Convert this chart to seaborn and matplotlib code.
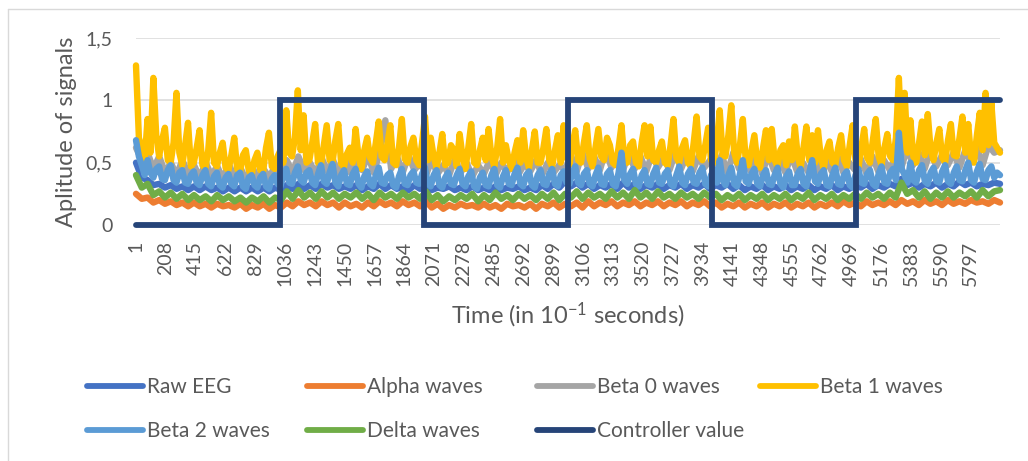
import numpy as np
import matplotlib
matplotlib.use("Agg")
import matplotlib.pyplot as plt
from matplotlib.lines import Line2D
import seaborn as sns

# time axis (samples, 10^-1 s). Slow series are read off at 150 positions,
# the two busiest (Beta 1, Beta 2) at 300 positions
time_idx = np.linspace(1, 6000, 150)
time_fine = np.linspace(1, 6000, 300)
time_ticks = list(range(1, 5798, 207))

raw_eeg = [
    0.50, 0.38, 0.36, 0.32, 0.33, 0.30, 0.32, 0.29, 0.31, 0.28,
    0.31, 0.28, 0.31, 0.28, 0.30, 0.27, 0.30, 0.27, 0.30, 0.27,
    0.30, 0.27, 0.30, 0.27, 0.30, 0.28, 0.32, 0.29, 0.33, 0.29,
    0.32, 0.29, 0.33, 0.30, 0.32, 0.29, 0.31, 0.29, 0.32, 0.28,
    0.31, 0.29, 0.33, 0.29, 0.32, 0.29, 0.31, 0.28, 0.32, 0.29,
    0.31, 0.28, 0.30, 0.29, 0.31, 0.28, 0.30, 0.28, 0.31, 0.28,
    0.30, 0.28, 0.31, 0.28, 0.30, 0.29, 0.31, 0.28, 0.30, 0.28,
    0.32, 0.29, 0.33, 0.30, 0.35, 0.31, 0.34, 0.30, 0.33, 0.29,
    0.32, 0.30, 0.33, 0.29, 0.34, 0.30, 0.33, 0.29, 0.32, 0.30,
    0.33, 0.29, 0.32, 0.30, 0.33, 0.29, 0.32, 0.30, 0.33, 0.29,
    0.32, 0.30, 0.33, 0.29, 0.32, 0.28, 0.31, 0.29, 0.32, 0.28,
    0.31, 0.29, 0.32, 0.28, 0.31, 0.29, 0.32, 0.28, 0.31, 0.29,
    0.32, 0.28, 0.31, 0.29, 0.32, 0.30, 0.33, 0.29, 0.32, 0.30,
    0.33, 0.31, 0.37, 0.32, 0.34, 0.30, 0.33, 0.31, 0.34, 0.30,
    0.33, 0.31, 0.35, 0.32, 0.34, 0.31, 0.33, 0.32, 0.34, 0.33,
]

alpha_waves = [
    0.25, 0.21, 0.22, 0.18, 0.20, 0.17, 0.19, 0.16, 0.18, 0.15,
    0.18, 0.15, 0.17, 0.14, 0.17, 0.15, 0.16, 0.14, 0.17, 0.13,
    0.16, 0.14, 0.17, 0.13, 0.16, 0.14, 0.18, 0.15, 0.19, 0.16,
    0.18, 0.15, 0.19, 0.16, 0.18, 0.14, 0.18, 0.15, 0.17, 0.14,
    0.18, 0.15, 0.19, 0.16, 0.18, 0.15, 0.19, 0.16, 0.18, 0.15,
    0.19, 0.14, 0.17, 0.13, 0.16, 0.14, 0.17, 0.15, 0.16, 0.14,
    0.17, 0.14, 0.16, 0.13, 0.17, 0.15, 0.16, 0.14, 0.17, 0.13,
    0.17, 0.15, 0.18, 0.14, 0.17, 0.15, 0.18, 0.14, 0.19, 0.15,
    0.18, 0.16, 0.19, 0.15, 0.18, 0.16, 0.19, 0.15, 0.18, 0.16,
    0.19, 0.15, 0.18, 0.16, 0.19, 0.15, 0.18, 0.16, 0.19, 0.15,
    0.18, 0.14, 0.17, 0.15, 0.18, 0.14, 0.17, 0.15, 0.18, 0.14,
    0.17, 0.15, 0.18, 0.14, 0.17, 0.15, 0.18, 0.14, 0.17, 0.15,
    0.18, 0.15, 0.19, 0.16, 0.18, 0.15, 0.19, 0.16, 0.18, 0.16,
    0.19, 0.16, 0.20, 0.17, 0.19, 0.16, 0.20, 0.17, 0.19, 0.16,
    0.20, 0.17, 0.19, 0.17, 0.20, 0.18, 0.19, 0.17, 0.20, 0.18,
]

beta0_waves = [
    0.62, 0.52, 0.58, 0.45, 0.55, 0.42, 0.50, 0.40, 0.52, 0.41,
    0.48, 0.38, 0.50, 0.40, 0.47, 0.37, 0.49, 0.38, 0.46, 0.36,
    0.47, 0.37, 0.45, 0.38, 0.48, 0.40, 0.52, 0.42, 0.55, 0.44,
    0.50, 0.41, 0.54, 0.43, 0.52, 0.40, 0.55, 0.42, 0.50, 0.44,
    0.56, 0.42, 0.58, 0.84, 0.45, 0.55, 0.42, 0.56, 0.44, 0.50,
    0.40, 0.52, 0.41, 0.48, 0.40, 0.53, 0.42, 0.50, 0.39, 0.48,
    0.41, 0.52, 0.40, 0.50, 0.42, 0.54, 0.41, 0.49, 0.43, 0.52,
    0.40, 0.50, 0.42, 0.48, 0.44, 0.56, 0.43, 0.58, 0.45, 0.55,
    0.44, 0.60, 0.46, 0.56, 0.44, 0.58, 0.45, 0.55, 0.43, 0.57,
    0.46, 0.54, 0.44, 0.58, 0.45, 0.56, 0.43, 0.55, 0.46, 0.52,
    0.44, 0.56, 0.42, 0.58, 0.45, 0.52, 0.43, 0.55, 0.41, 0.57,
    0.44, 0.53, 0.42, 0.56, 0.43, 0.50, 0.42, 0.54, 0.41, 0.52,
    0.43, 0.55, 0.42, 0.50, 0.44, 0.53, 0.41, 0.55, 0.43, 0.52,
    0.44, 0.56, 0.46, 0.62, 0.48, 0.58, 0.45, 0.60, 0.47, 0.56,
    0.48, 0.58, 0.46, 0.60, 0.50, 0.62, 0.48, 0.64, 0.58, 0.60,
]

beta1_waves = [
    1.28, 0.70, 0.62, 0.52, 0.85, 0.58, 1.18, 0.72, 0.55, 0.68, 0.78, 0.52, 0.50, 0.66, 1.06, 0.58, 0.48, 0.64, 0.82, 0.47,
    0.50, 0.62, 0.76, 0.48, 0.45, 0.60, 0.90, 0.50, 0.47, 0.58, 0.66, 0.46, 0.44, 0.56, 0.70, 0.45, 0.42, 0.56, 0.60, 0.44,
    0.40, 0.52, 0.58, 0.44, 0.43, 0.62, 0.74, 0.47, 0.45, 0.55, 0.60, 0.50, 0.92, 0.58, 0.55, 0.70, 1.08, 0.60, 0.88, 0.50,
    0.52, 0.66, 0.81, 0.50, 0.48, 0.64, 0.80, 0.52, 0.50, 0.68, 0.81, 0.49, 0.47, 0.57, 0.62, 0.50, 0.77, 0.55, 0.45, 0.60,
    0.70, 0.54, 0.50, 0.66, 0.83, 0.55, 0.52, 0.65, 0.80, 0.50, 0.48, 0.62, 0.85, 0.53, 0.50, 0.63, 0.70, 0.52, 0.48, 0.66,
    0.87, 0.52, 0.70, 0.55, 0.46, 0.58, 0.73, 0.48, 0.50, 0.64, 0.60, 0.47, 0.73, 0.55, 0.45, 0.62, 0.81, 0.50, 0.48, 0.60,
    0.70, 0.52, 0.77, 0.55, 0.47, 0.62, 0.85, 0.50, 0.64, 0.52, 0.45, 0.58, 0.68, 0.50, 0.76, 0.54, 0.46, 0.60, 0.75, 0.50,
    0.50, 0.62, 0.77, 0.52, 0.47, 0.60, 0.72, 0.50, 0.80, 0.55, 0.48, 0.64, 0.76, 0.52, 0.50, 0.66, 0.80, 0.53, 0.47, 0.62,
    0.77, 0.55, 0.52, 0.70, 0.64, 0.50, 0.48, 0.62, 0.80, 0.52, 0.50, 0.64, 0.67, 0.50, 0.47, 0.66, 0.80, 0.55, 0.79, 0.52,
    0.50, 0.60, 0.67, 0.50, 0.48, 0.64, 0.85, 0.54, 0.50, 0.62, 0.68, 0.50, 0.47, 0.66, 0.87, 0.55, 0.52, 0.64, 0.78, 0.52,
    0.50, 0.66, 0.92, 0.56, 0.55, 0.72, 0.96, 0.58, 0.50, 0.64, 0.85, 0.52, 0.48, 0.60, 0.72, 0.50, 0.46, 0.62, 0.76, 0.52,
    0.77, 0.52, 0.47, 0.60, 0.64, 0.48, 0.67, 0.52, 0.79, 0.55, 0.46, 0.62, 0.79, 0.52, 0.72, 0.50, 0.76, 0.54, 0.45, 0.60,
    0.67, 0.50, 0.48, 0.62, 0.72, 0.52, 0.47, 0.64, 0.80, 0.52, 0.46, 0.62, 0.77, 0.54, 0.50, 0.68, 0.85, 0.55, 0.48, 0.62,
    0.73, 0.55, 0.52, 0.70, 1.18, 0.62, 1.06, 0.58, 0.84, 0.55, 0.50, 0.66, 0.83, 0.56, 0.89, 0.60, 0.52, 0.66, 0.77, 0.54,
    0.50, 0.68, 0.81, 0.56, 0.55, 0.70, 0.87, 0.58, 0.81, 0.54, 0.50, 0.72, 0.90, 0.60, 1.06, 0.64, 0.98, 0.66, 0.62, 0.58,
]

beta2_waves = [
    0.68, 0.55, 0.48, 0.40, 0.52, 0.42, 0.38, 0.45, 0.47, 0.37, 0.36, 0.44, 0.48, 0.36, 0.34, 0.42, 0.44, 0.34, 0.33, 0.40,
    0.43, 0.34, 0.32, 0.40, 0.44, 0.33, 0.31, 0.39, 0.42, 0.32, 0.30, 0.38, 0.41, 0.33, 0.31, 0.40, 0.42, 0.31, 0.29, 0.38,
    0.40, 0.32, 0.30, 0.38, 0.41, 0.31, 0.29, 0.37, 0.40, 0.33, 0.31, 0.40, 0.45, 0.34, 0.33, 0.42, 0.47, 0.36, 0.34, 0.42,
    0.44, 0.34, 0.32, 0.41, 0.48, 0.35, 0.33, 0.42, 0.49, 0.34, 0.31, 0.40, 0.44, 0.33, 0.32, 0.41, 0.45, 0.33, 0.30, 0.39,
    0.43, 0.33, 0.31, 0.40, 0.46, 0.34, 0.33, 0.40, 0.42, 0.32, 0.30, 0.39, 0.45, 0.33, 0.32, 0.40, 0.43, 0.34, 0.33, 0.41,
    0.46, 0.33, 0.31, 0.40, 0.44, 0.32, 0.30, 0.38, 0.42, 0.33, 0.32, 0.40, 0.45, 0.33, 0.31, 0.39, 0.43, 0.31, 0.29, 0.38,
    0.42, 0.32, 0.31, 0.40, 0.45, 0.32, 0.30, 0.39, 0.44, 0.33, 0.32, 0.41, 0.46, 0.33, 0.31, 0.40, 0.43, 0.32, 0.30, 0.40,
    0.44, 0.33, 0.32, 0.41, 0.45, 0.33, 0.31, 0.40, 0.43, 0.34, 0.33, 0.42, 0.47, 0.34, 0.32, 0.41, 0.44, 0.33, 0.31, 0.40,
    0.46, 0.33, 0.32, 0.41, 0.44, 0.33, 0.31, 0.42, 0.58, 0.36, 0.33, 0.41, 0.45, 0.33, 0.31, 0.40, 0.44, 0.33, 0.32, 0.41,
    0.46, 0.34, 0.33, 0.41, 0.44, 0.33, 0.31, 0.40, 0.47, 0.34, 0.32, 0.41, 0.45, 0.34, 0.33, 0.42, 0.46, 0.33, 0.31, 0.40,
    0.44, 0.34, 0.52, 0.36, 0.32, 0.40, 0.46, 0.33, 0.31, 0.41, 0.52, 0.35, 0.33, 0.41, 0.45, 0.33, 0.31, 0.40, 0.44, 0.33,
    0.32, 0.40, 0.46, 0.33, 0.30, 0.39, 0.43, 0.32, 0.32, 0.41, 0.45, 0.33, 0.31, 0.42, 0.52, 0.35, 0.33, 0.41, 0.44, 0.32,
    0.31, 0.40, 0.46, 0.33, 0.32, 0.40, 0.43, 0.32, 0.30, 0.40, 0.45, 0.34, 0.33, 0.41, 0.44, 0.33, 0.31, 0.41, 0.47, 0.34,
    0.33, 0.42, 0.45, 0.36, 0.74, 0.45, 0.40, 0.34, 0.50, 0.36, 0.34, 0.44, 0.48, 0.35, 0.33, 0.42, 0.46, 0.35, 0.34, 0.43,
    0.48, 0.35, 0.33, 0.42, 0.47, 0.36, 0.35, 0.44, 0.50, 0.36, 0.34, 0.43, 0.49, 0.37, 0.36, 0.44, 0.47, 0.38, 0.42, 0.40,
]

delta_waves = [
    0.40, 0.30, 0.33, 0.24, 0.27, 0.22, 0.26, 0.21, 0.25, 0.20,
    0.24, 0.20, 0.23, 0.19, 0.24, 0.20, 0.23, 0.19, 0.22, 0.18,
    0.22, 0.19, 0.23, 0.18, 0.22, 0.20, 0.27, 0.21, 0.28, 0.22,
    0.26, 0.21, 0.27, 0.22, 0.26, 0.21, 0.25, 0.22, 0.26, 0.21,
    0.25, 0.20, 0.26, 0.22, 0.25, 0.21, 0.26, 0.22, 0.25, 0.21,
    0.27, 0.20, 0.24, 0.19, 0.23, 0.20, 0.24, 0.21, 0.25, 0.19,
    0.24, 0.20, 0.26, 0.21, 0.24, 0.20, 0.25, 0.21, 0.24, 0.20,
    0.25, 0.21, 0.26, 0.20, 0.25, 0.22, 0.27, 0.21, 0.26, 0.22,
    0.25, 0.21, 0.27, 0.22, 0.26, 0.21, 0.28, 0.22, 0.26, 0.21,
    0.27, 0.22, 0.25, 0.21, 0.26, 0.22, 0.25, 0.21, 0.26, 0.22,
    0.25, 0.20, 0.24, 0.21, 0.25, 0.20, 0.24, 0.21, 0.25, 0.20,
    0.24, 0.21, 0.25, 0.20, 0.24, 0.21, 0.26, 0.20, 0.24, 0.21,
    0.25, 0.20, 0.24, 0.21, 0.25, 0.21, 0.26, 0.22, 0.25, 0.21,
    0.26, 0.22, 0.34, 0.25, 0.28, 0.22, 0.27, 0.21, 0.26, 0.22,
    0.27, 0.22, 0.26, 0.23, 0.27, 0.22, 0.28, 0.23, 0.27, 0.28,
]

# controller switches every 1000 samples
ctrl_x = [1, 1000, 2000, 3000, 4000, 5000, 6000]
ctrl_y = [0, 1, 0, 1, 0, 1, 1]

y_ticks = [0, 0.5, 1, 1.5]
y_tick_labels = ["0", "0,5", "1", "1,5"]

series = [
    ("Raw EEG", time_idx, raw_eeg, "#4472C4"),
    ("Alpha waves", time_idx, alpha_waves, "#ED7D31"),
    ("Beta 0 waves", time_idx, beta0_waves, "#A5A5A5"),
    ("Beta 1 waves", time_fine, beta1_waves, "#FFC000"),
    ("Beta 2 waves", time_fine, beta2_waves, "#5B9BD5"),
    ("Delta waves", time_idx, delta_waves, "#70AD47"),
]
ctrl_color = "#264478"
txt_color = "#595959"

sns.set_style("white")
plt.rcParams["font.family"] = ["Lato", "DejaVu Sans"]
plt.rcParams["mathtext.default"] = "regular"

W, H = 1028, 461
fig = plt.figure(figsize=(W / 100, H / 100), dpi=100)
ax = fig.add_axes([136 / W, 1 - 225 / H, 864 / W, 187 / H])

for name, xs, vals, col in series:
    sns.lineplot(x=xs, y=vals, color=col, ax=ax, legend=False)

sns.lineplot(x=ctrl_x, y=ctrl_y, color=ctrl_color, ax=ax, legend=False,
             drawstyle="steps-post")

for i, ln in enumerate(ax.lines):
    ln.set_linewidth(4.6 if i < len(series) else 4.2)
    ln.set_solid_joinstyle("round" if i < len(series) else "miter")
    ln.set_solid_capstyle("round")
    ln.set_clip_on(False)

ax.set_xlim(1, 6000)
ax.set_ylim(0, 1.5)
ax.set_xticks(time_ticks)
ax.set_xticklabels([str(t) for t in time_ticks], rotation=90)
ax.set_yticks(y_ticks)
ax.set_yticklabels(y_tick_labels)
ax.tick_params(axis="both", length=0, labelsize=14, labelcolor=txt_color)
ax.tick_params(axis="x", pad=11.5)
ax.tick_params(axis="y", pad=17)
ax.grid(False)
ax.yaxis.grid(True, color="#D9D9D9", linewidth=1.1)
ax.set_axisbelow(True)
for sp in ax.spines.values():
    sp.set_visible(False)

ax.set_xlabel(r"Time (in 10$^{-1}$ seconds)", fontsize=17, color=txt_color, labelpad=10)
ax.set_ylabel("Aplitude of signals", fontsize=17, color=txt_color, labelpad=6)

# legend: Excel puts entries on a fixed grid, so one small legend per entry
legend_slots = [
    ("Raw EEG", "#4472C4", 87, 387),
    ("Alpha waves", "#ED7D31", 307, 387),
    ("Beta 0 waves", "#A5A5A5", 537, 387),
    ("Beta 1 waves", "#FFC000", 760, 387),
    ("Beta 2 waves", "#5B9BD5", 87, 431),
    ("Delta waves", "#70AD47", 307, 431),
    ("Controller value", ctrl_color, 537, 431),
]
for name, col, px, py in legend_slots:
    h = Line2D([0], [0], color=col, linewidth=4.2, solid_capstyle="round")
    fig.legend(handles=[h], labels=[name], loc="center left",
               bbox_to_anchor=(px / W, 1 - py / H), frameon=False,
               borderpad=0, borderaxespad=0, handlelength=2.7, handletextpad=0.2,
               fontsize=15, labelcolor=txt_color)

# chart area border (only left and top edges are inside the picture)
fig.add_artist(Line2D([8 / W, 8 / W], [0, 1 - 9 / H], transform=fig.transFigure,
                      color="#D9D9D9", linewidth=1))
fig.add_artist(Line2D([8 / W, 1], [1 - 9 / H, 1 - 9 / H], transform=fig.transFigure,
                      color="#D9D9D9", linewidth=1))

fig.savefig("out.png", dpi=100)
